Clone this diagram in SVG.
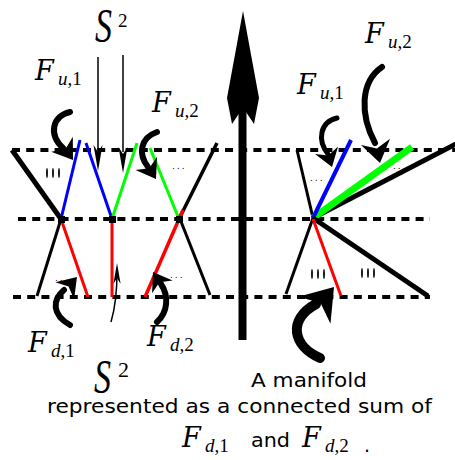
<svg xmlns="http://www.w3.org/2000/svg" xmlns:xlink="http://www.w3.org/1999/xlink" width="455" height="460" viewBox="0 0 455 460">
<style>
.dash{stroke:#000;stroke-width:4;stroke-dasharray:8 6.2;fill:none}
.ln{fill:none;stroke-linecap:butt}
.brush{fill:none;stroke:#000;stroke-linecap:round}
.thin{fill:none;stroke:#000;stroke-width:1.5}
.m{font-family:"Liberation Serif","DejaVu Serif",serif;font-style:italic;fill:#000}
.f{font-family:"DejaVu Serif","Liberation Serif",serif;font-style:italic;font-size:27px;fill:#000}
.n{font-family:"Liberation Serif","DejaVu Serif",serif;font-style:normal;fill:#000}
.t{font-family:"DejaVu Sans","Liberation Sans",sans-serif;fill:#000}
.dots{font-family:"DejaVu Sans",sans-serif;font-size:9px;letter-spacing:2px;fill:#000}
</style>
<defs>
<path id="head" d="M0,0 L-16,-11 L-11,0 L-16,11 Z" fill="#000"/>
<path id="thinhead" d="M0,0 L-26,-4.5 L-19,0 L-26,4.5 Z" fill="#000"/>
<g id="bars"><ellipse cx="0" cy="0" rx="0.9" ry="5" fill="#000"/><ellipse cx="6" cy="0" rx="0.9" ry="5" fill="#000"/><ellipse cx="12" cy="0" rx="0.9" ry="5" fill="#000"/></g>
</defs>

<g id="levels">
<line class="dash" x1="12" y1="150" x2="455" y2="150"/>
<line class="dash" x1="18" y1="219" x2="430" y2="219"/>
<line class="dash" x1="13" y1="297" x2="430" y2="297"/>
</g>

<g id="left-manifold">
<line class="ln" x1="12" y1="150" x2="61" y2="219" stroke="#000" stroke-width="5"/>
<line class="ln" x1="61" y1="219" x2="80" y2="140" stroke="#0000ff" stroke-width="3"/>
<line class="ln" x1="86" y1="143" x2="112" y2="219" stroke="#0000ff" stroke-width="3"/>
<line class="ln" x1="112" y1="219" x2="137" y2="143" stroke="#00ff00" stroke-width="3"/>
<line class="ln" x1="150" y1="148" x2="179" y2="219" stroke="#00ff00" stroke-width="3"/>
<line class="ln" x1="179" y1="219" x2="217" y2="143" stroke="#000" stroke-width="3.5"/>
<line class="ln" x1="61" y1="219" x2="37" y2="296" stroke="#000" stroke-width="3"/>
<line class="ln" x1="61" y1="219" x2="88" y2="297" stroke="#ff0000" stroke-width="3"/>
<line class="ln" x1="112" y1="219" x2="112" y2="297" stroke="#ff0000" stroke-width="3"/>
<line class="ln" x1="183" y1="210" x2="145" y2="297" stroke="#ff0000" stroke-width="3.5"/>
<line class="ln" x1="180" y1="219" x2="210" y2="295" stroke="#000" stroke-width="3"/>
<rect x="58" y="216" width="7" height="7" fill="#000"/>
<rect x="109" y="216" width="7" height="7" fill="#000"/>
<rect x="176" y="216" width="7" height="7" fill="#000"/>
<use xlink:href="#bars" x="47" y="173"/>
<text class="dots" x="172" y="169">...</text>
<text class="dots" x="55" y="281">...</text>
<text class="dots" x="170" y="278">...</text>
</g>

<g id="right-manifold">
<line class="ln" x1="297" y1="150" x2="313" y2="218" stroke="#000" stroke-width="3"/>
<line class="ln" x1="313" y1="218" x2="456" y2="144" stroke="#000" stroke-width="5"/>
<line class="ln" x1="313" y1="218" x2="412" y2="147" stroke="#00ff00" stroke-width="7"/>
<line class="ln" x1="313" y1="218" x2="351" y2="140" stroke="#0000ff" stroke-width="4"/>
<line class="ln" x1="313" y1="218" x2="286" y2="294" stroke="#000" stroke-width="3"/>
<line class="ln" x1="313" y1="218" x2="428" y2="296" stroke="#000" stroke-width="5"/>
<line class="ln" x1="313" y1="219" x2="341" y2="296" stroke="#ff0000" stroke-width="3"/>
<use xlink:href="#bars" x="312" y="274"/>
<use xlink:href="#bars" x="362" y="273"/>
<text class="dots" x="310" y="181">...</text>
<text class="dots" x="393" y="169">...</text>
</g>

<g id="big-arrow">
<rect x="238.5" y="110" width="8" height="230" fill="#000"/>
<polygon points="243,11 259,98 254,124 246,112 240,112 232,124 227,98" fill="#000"/>
</g>

<g id="connectors">
<line class="thin" x1="98" y1="57" x2="98" y2="150"/>
<use xlink:href="#thinhead" transform="translate(98,171) rotate(90)"/>
<line class="thin" x1="123" y1="55" x2="123" y2="152"/>
<use xlink:href="#thinhead" transform="translate(123,173) rotate(90)"/>
<path class="thin" d="M111,322 C116,305 117,290 117,272" stroke-width="2"/>
<use xlink:href="#thinhead" transform="translate(117,263) rotate(-90) scale(0.8)"/>

<path class="brush" d="M70,112 C52,116 48,135 64,149" stroke-width="6"/>
<use xlink:href="#head" transform="translate(73,160) rotate(55) scale(1.2)"/>
<path class="brush" d="M157,132 C140,138 138,154 148,167" stroke-width="6"/>
<use xlink:href="#head" transform="translate(156,179) rotate(58) scale(1.15)"/>
<path class="brush" d="M70,325 C52,315 52,300 64,290" stroke-width="6"/>
<use xlink:href="#head" transform="translate(77,277) rotate(-48) scale(1.15)"/>
<path class="brush" d="M157,322 C168,312 169,296 161,284" stroke-width="6"/>
<use xlink:href="#head" transform="translate(153,272) rotate(-122) scale(1.1)"/>

<path class="brush" d="M337,118 C320,122 317,140 328,154" stroke-width="5"/>
<use xlink:href="#head" transform="translate(332,167) rotate(72) scale(1.1)"/>
<path class="brush" d="M382,67 C360,82 360,115 375,143" stroke-width="6"/>
<use xlink:href="#head" transform="translate(380,163) rotate(78) scale(1.35)"/>
<path class="brush" d="M320,358 C293,346 287,320 316,304" stroke-width="10"/>
<use xlink:href="#head" transform="translate(334,287) rotate(-50) scale(1.9)"/>
</g>

<g id="labels">
<text class="m" x="95" y="42" font-size="48" textLength="17" lengthAdjust="spacingAndGlyphs">S</text>
<text class="n" x="118" y="27" font-size="19">2</text>
<text class="m" x="94" y="393" font-size="48" textLength="17" lengthAdjust="spacingAndGlyphs">S</text>
<text class="n" x="118" y="377" font-size="22">2</text>

<text class="f" x="35" y="80">F</text>
<text class="m" x="58" y="85" font-size="19">u<tspan class="n">,1</tspan></text>
<text class="f" x="152" y="112">F</text>
<text class="m" x="175" y="117" font-size="19">u<tspan class="n">,2</tspan></text>
<text class="f" x="297" y="94">F</text>
<text class="m" x="320" y="99" font-size="19">u<tspan class="n">,1</tspan></text>
<text class="f" x="365" y="43">F</text>
<text class="m" x="388" y="48" font-size="19">u<tspan class="n">,2</tspan></text>
<text class="f" x="28" y="352">F</text>
<text class="m" x="51" y="357" font-size="19">d<tspan class="n">,1</tspan></text>
<text class="f" x="147" y="346">F</text>
<text class="m" x="170" y="351" font-size="19">d<tspan class="n">,2</tspan></text>

<text class="t" x="251" y="387" font-size="19" textLength="116" lengthAdjust="spacingAndGlyphs">A manifold</text>
<text class="t" x="47" y="413" font-size="19" textLength="385" lengthAdjust="spacingAndGlyphs">represented as a connected sum of</text>
<text class="f" x="182" y="447">F</text>
<text class="m" x="205" y="452" font-size="19">d<tspan class="n">,1</tspan></text>
<text class="t" x="251" y="447" font-size="19" textLength="39" lengthAdjust="spacingAndGlyphs">and</text>
<text class="f" x="302" y="447">F</text>
<text class="m" x="325" y="452" font-size="19">d<tspan class="n">,2</tspan></text>
<text class="t" x="364" y="452" font-size="19">.</text>
</g>
</svg>
